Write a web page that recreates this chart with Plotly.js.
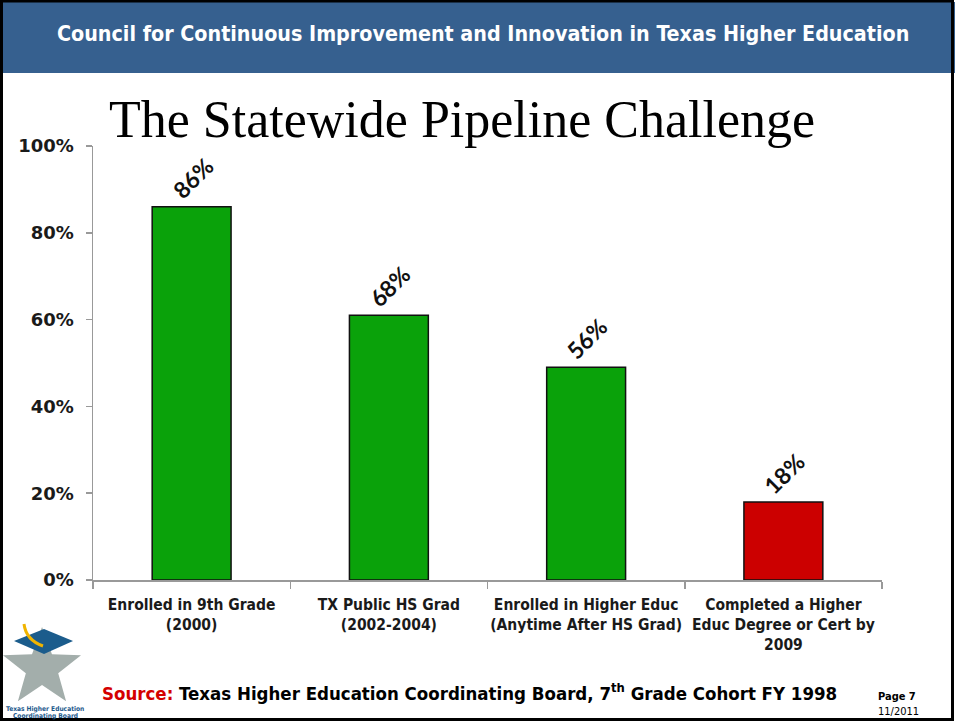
<!DOCTYPE html>
<html>
<head>
<meta charset="utf-8">
<script src="https://cdn.plot.ly/plotly-3.0.1.min.js"></script>
<style>html,body{margin:0;padding:0;background:#fff;}#chart{width:955px;height:721px;}</style>
</head>
<body>
<div id="chart"></div>
<script>
// ---- data ----
const categories = [
  "Enrolled in 9th Grade<br>(2000)",
  "TX Public HS Grad<br>(2002-2004)",
  "Enrolled in Higher Educ<br>(Anytime After HS Grad)",
  "Completed a Higher<br>Educ Degree or Cert by<br>2009"
];
const barHeights = [86, 61, 49, 18];          // bar heights as drawn (%)
const barLabels = ["86%", "68%", "56%", "18%"]; // labels as printed
const barColors = ["#0aa20a", "#0aa20a", "#0aa20a", "#cc0000"];
const yTickVals = [0, 20, 40, 60, 80, 100];
const yTickText = ["0%", "20%", "40%", "60%", "80%", "100%"];

// ---- pixel helpers for decorations ----
const L = 93, R = 882, T = 146, B = 580, W = 955, H = 721;
const px = x => (x - L) / (R - L);
const py = y => (B - y) / (B - T);
const COND = "'DejaVu Sans Condensed', 'DejaVu Sans', sans-serif";

function starPath(cx, cy, ro, ri) {
  let p = "";
  for (let i = 0; i < 10; i++) {
    const a = -Math.PI / 2 + i * Math.PI / 5;
    const r = i % 2 === 0 ? ro : ri;
    const x = cx + r * Math.cos(a), y = cy + r * Math.sin(a);
    p += (i === 0 ? "M" : "L") + px(x).toFixed(4) + "," + py(y).toFixed(4);
  }
  return p + "Z";
}
function polyPath(pts) {
  return pts.map((q, i) => (i === 0 ? "M" : "L") + px(q[0]).toFixed(4) + "," + py(q[1]).toFixed(4)).join("") + "Z";
}

const trace = {
  type: "bar",
  x: categories,
  y: barHeights,
  marker: { color: barColors, line: { color: "#111", width: 1.5 } },
  hoverinfo: "none"
};

const annotations = barLabels.map((t, i) => ({
  x: categories[i], y: barHeights[i], xref: "x", yref: "y",
  text: "<b>" + t + "</b>", showarrow: false, textangle: -45,
  xanchor: "center", yanchor: "middle", yshift: 29, xshift: 1,
  font: { family: "Lato, 'Open Sans', sans-serif", size: 23, color: "#111" }
}));

annotations.push(
  { xref: "paper", yref: "paper", x: px(483), y: py(33), text: "<b>Council for Continuous Improvement and Innovation in Texas Higher Education</b>",
    showarrow: false, xanchor: "center", yanchor: "middle",
    font: { family: COND, size: 21.3, color: "#ffffff" } },
  { xref: "paper", yref: "paper", x: px(462), y: py(119), text: "The Statewide Pipeline Challenge",
    showarrow: false, xanchor: "center", yanchor: "middle",
    font: { family: "'Liberation Serif', serif", size: 52, color: "#000" } },
  { xref: "paper", yref: "paper", x: px(100), y: py(692),
    text: "<b><span style='color:#d40000'>Source:</span> Texas Higher Education Coordinating Board, 7<sup>th</sup> Grade Cohort FY 1998</b>",
    showarrow: false, xanchor: "left", yanchor: "middle",
    font: { family: COND, size: 18.5, color: "#000" } },
  { xref: "paper", yref: "paper", x: px(876), y: py(696), text: "<b>Page 7</b>",
    showarrow: false, xanchor: "left", yanchor: "middle",
    font: { family: COND, size: 11, color: "#000" } },
  { xref: "paper", yref: "paper", x: px(876), y: py(711), text: "11/2011",
    showarrow: false, xanchor: "left", yanchor: "middle",
    font: { family: COND, size: 11, color: "#000" } },
  { xref: "paper", yref: "paper", x: px(45), y: py(709), text: "<b>Texas Higher Education</b>",
    showarrow: false, xanchor: "center", yanchor: "middle",
    font: { family: COND, size: 6.6, color: "#1d5a8c" } },
  { xref: "paper", yref: "paper", x: px(45), y: py(716), text: "<b>Coordinating Board</b>",
    showarrow: false, xanchor: "center", yanchor: "middle",
    font: { family: COND, size: 6.6, color: "#1d5a8c" } }
);

const shapes = [
  { type: "rect", xref: "paper", yref: "paper", x0: px(2), x1: px(955), y0: py(2), y1: py(73),
    fillcolor: "#36608f", line: { width: 0 }, layer: "below" },
  { type: "rect", xref: "paper", yref: "paper", x0: px(1.5), x1: px(952.5), y0: py(1), y1: py(719.5),
    fillcolor: "rgba(0,0,0,0)", line: { color: "#000", width: 3 } },
  { type: "path", xref: "paper", yref: "paper", path: starPath(42, 668, 41, 17),
    fillcolor: "#a3aeab", line: { width: 0 } },
  { type: "path", xref: "paper", yref: "paper", path: polyPath([[14, 641], [44, 629], [73, 641], [44, 654]]),
    fillcolor: "#1b5c8c", line: { width: 0 } },
  { type: "path", xref: "paper", yref: "paper",
    path: "M" + px(24) + "," + py(624) + " Q" + px(26) + "," + py(640) + " " + px(43) + "," + py(646),
    line: { color: "#f0b400", width: 3 } }
];

const layout = {
  width: W, height: H,
  margin: { l: L, r: W - R, t: T, b: H - B, pad: 0 },
  paper_bgcolor: "#ffffff", plot_bgcolor: "#ffffff",
  showlegend: false,
  bargap: 0.6,
  xaxis: {
    type: "category", range: [-0.5, 3.5], fixedrange: true, automargin: false,
    tickangle: 0,
    showline: true, linecolor: "#999", linewidth: 1.5,
    ticks: "outside", tickson: "boundaries", ticklen: 7, tickcolor: "#999", tickwidth: 1.5,
    ticklabelstandoff: 10,
    showgrid: false, zeroline: false,
    tickfont: { family: COND, size: 15.5, color: "#1a1a1a", weight: "bold" }
  },
  yaxis: {
    range: [0, 100], fixedrange: true, automargin: false,
    tickvals: yTickVals, ticktext: yTickText,
    showline: true, linecolor: "#999", linewidth: 1.5,
    ticks: "outside", ticklen: 6, tickcolor: "#999", tickwidth: 1.5,
    ticklabelstandoff: 8,
    showgrid: false, zeroline: false,
    tickfont: { family: "'DejaVu Sans', Verdana, sans-serif", size: 18, color: "#1a1a1a", weight: "bold" }
  },
  annotations: annotations,
  shapes: shapes
};

Plotly.newPlot("chart", [trace], layout, { displayModeBar: false, staticPlot: true });
</script>
</body>
</html>
